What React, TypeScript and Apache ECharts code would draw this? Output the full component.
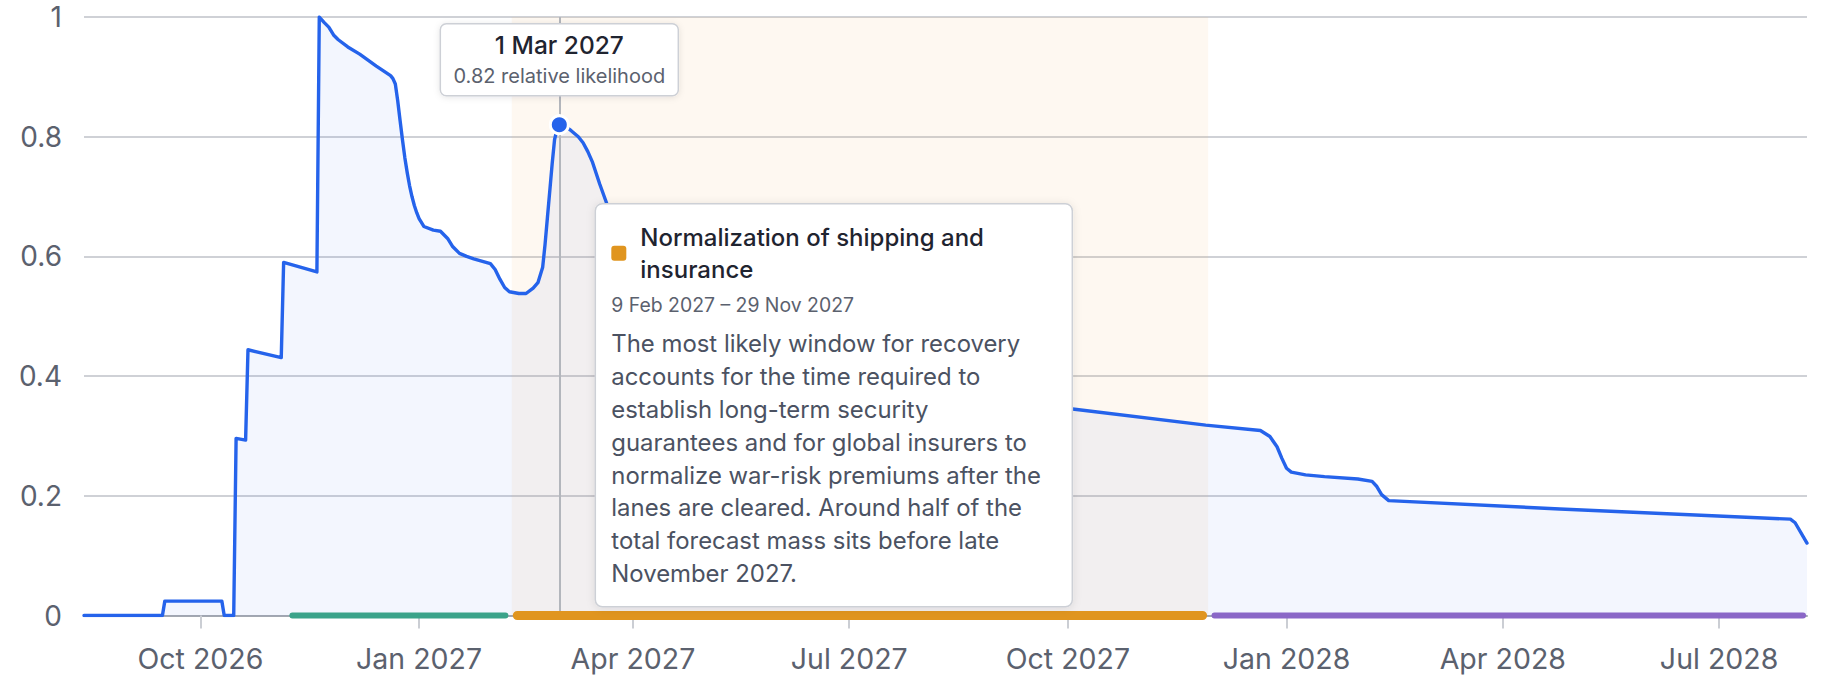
import React, { useEffect, useRef } from "react";
import * as echarts from "echarts";

// ---- data ----
const pointDates = [
  "2026-08-13", "2026-09-15", "2026-09-16", "2026-10-10", "2026-10-11", "2026-10-15",
  "2026-10-16", "2026-10-20", "2026-10-21", "2026-11-04", "2026-11-05", "2026-11-19",
  "2026-11-20", "2026-11-22", "2026-11-24", "2026-11-26", "2026-11-28", "2026-12-02",
  "2026-12-07", "2026-12-14", "2026-12-17", "2026-12-20", "2026-12-21", "2026-12-22",
  "2026-12-23", "2026-12-24", "2026-12-25", "2026-12-26", "2026-12-27", "2026-12-28",
  "2026-12-29", "2026-12-30", "2026-12-31", "2027-01-01", "2027-01-03", "2027-01-07",
  "2027-01-10", "2027-01-13", "2027-01-15", "2027-01-18", "2027-01-21", "2027-01-24",
  "2027-01-31", "2027-02-02", "2027-02-04", "2027-02-06", "2027-02-08", "2027-02-12",
  "2027-02-15", "2027-02-18", "2027-02-20", "2027-02-22", "2027-02-23", "2027-02-24",
  "2027-02-25", "2027-02-26", "2027-02-27", "2027-02-28", "2027-03-01", "2027-03-04",
  "2027-03-06", "2027-03-09", "2027-03-11", "2027-03-13", "2027-03-15", "2027-03-18",
  "2027-03-21", "2027-03-25", "2027-04-01", "2027-04-08", "2027-04-15", "2027-04-25",
  "2027-05-15", "2027-06-15", "2027-07-15", "2027-08-15", "2027-09-10", "2027-10-03",
  "2027-11-28", "2027-12-21", "2027-12-25", "2027-12-28", "2027-12-30", "2028-01-01",
  "2028-01-03", "2028-01-09", "2028-01-17", "2028-01-31", "2028-02-06", "2028-02-08",
  "2028-02-10", "2028-02-13", "2028-04-25", "2028-07-31", "2028-08-02", "2028-08-07",
];
const pointValues = [
  0, 0, 0.024, 0.024, 0, 0,
  0.296, 0.293, 0.444, 0.431, 0.59, 0.574,
  1.0, 0.991, 0.983, 0.97, 0.962, 0.95,
  0.938, 0.918, 0.91, 0.902, 0.897, 0.888,
  0.86, 0.827, 0.795, 0.765, 0.74, 0.718,
  0.7, 0.685, 0.673, 0.663, 0.65, 0.644,
  0.642, 0.63, 0.617, 0.605, 0.6, 0.596,
  0.588, 0.578, 0.562, 0.548, 0.541, 0.538,
  0.538, 0.547, 0.556, 0.582, 0.62, 0.665,
  0.71, 0.755, 0.795, 0.812, 0.82, 0.816,
  0.81, 0.8, 0.79, 0.775, 0.757, 0.721,
  0.688, 0.63, 0.55, 0.49, 0.46, 0.445,
  0.43, 0.41, 0.39, 0.37, 0.357, 0.345,
  0.318, 0.309, 0.299, 0.282, 0.263, 0.246,
  0.2395, 0.235, 0.232, 0.228, 0.224, 0.2155,
  0.202, 0.192, 0.178, 0.161, 0.155, 0.121,
];

const axisStart = "2026-08-13";
const axisEnd = "2028-08-07";

const tickDates = [
  "2026-10-01", "2027-01-01", "2027-04-01", "2027-07-01",
  "2027-10-01", "2028-01-01", "2028-04-01", "2028-07-01",
];
const tickLabels = [
  "Oct 2026", "Jan 2027", "Apr 2027", "Jul 2027",
  "Oct 2027", "Jan 2028", "Apr 2028", "Jul 2028",
];

const phaseNames = ["Clearance phase", "Normalization of shipping and insurance", "Long tail"];
const phaseStarts = ["2026-11-07", "2027-02-09", "2027-11-30"];
const phaseEnds = ["2027-02-08", "2027-11-29", "2028-08-07"];
const activePhase = 1;

const hoverDate = "2027-03-01";
const hoverDateLabel = "1 Mar 2027";
const hoverValue = 0.82;
const hoverUnit = "relative likelihood";

const phaseTitle = "Normalization of shipping and\ninsurance";
const phaseRange = "9 Feb 2027 – 29 Nov 2027";
const phaseBodyLines = [
  "The most likely window for recovery",
  "accounts for the time required to",
  "establish long-term security",
  "guarantees and for global insurers to",
  "normalize war-risk premiums after the",
  "lanes are cleared. Around half of the",
  "total forecast mass sits before late",
  "November 2027.",
];

// ---- styles ----
const FONT = "Inter, 'Noto Sans', sans-serif";
const phaseColors = ["#3aa38a", "#e0951f", "#8a67c7"];
const BLUE = "#2563eb";

const toTime = (s: string) => new Date(s + "T00:00:00Z").getTime();

export default function App() {
  const ref = useRef<HTMLDivElement>(null);

  useEffect(() => {
    if (!ref.current) return;
    const chart = echarts.init(ref.current, null, { renderer: "svg" });
    const tickTimes = tickDates.map(toTime);
    const lineData = pointDates.map((d, i) => [toTime(d), pointValues[i]]);
    const phaseData = phaseStarts.map((s, i) => ({
      name: phaseNames[i],
      value: [toTime(s), toTime(phaseEnds[i]), 0],
    }));

    chart.setOption({
      animation: false,
      textStyle: { fontFamily: FONT },
      grid: { left: 84, right: 19, top: 17, bottom: 74.5, containLabel: false },
      xAxis: {
        type: "value",
        min: toTime(axisStart),
        max: toTime(axisEnd),
        axisLine: { show: true, onZero: false, lineStyle: { color: "#a3a8b1", width: 2 } },
        axisTick: {
          show: true,
          customValues: tickTimes,
          length: 13,
          lineStyle: { color: "#cbced4", width: 2 },
        },
        axisLabel: {
          customValues: tickTimes,
          formatter: (v: number) => {
            const i = tickTimes.indexOf(v);
            return i >= 0 ? tickLabels[i] : "";
          },
          color: "#5b616e",
          fontSize: 28.5,
          fontFamily: FONT,
          margin: 28,
        },
        splitLine: { show: false },
      },
      yAxis: {
        type: "value",
        min: 0,
        max: 1,
        interval: 0.2,
        axisLine: { show: false },
        axisTick: { show: false },
        axisLabel: { color: "#5b616e", fontSize: 28, fontFamily: FONT, margin: 22 },
        splitLine: { lineStyle: { color: "#cfd1d6", width: 2 } },
      },
      series: [
        {
          type: "line",
          name: "Relative likelihood",
          data: lineData,
          showSymbol: false,
          symbol: "none",
          z: 3,
          lineStyle: { color: BLUE, width: 3.4, join: "round", cap: "round" },
          areaStyle: { color: "rgba(37,99,235,0.08)" },
          markArea: {
            silent: true,
            itemStyle: { color: "rgba(240,180,100,0.09)" },
            data: [[{ xAxis: toTime(phaseStarts[activePhase]) }, { xAxis: toTime(phaseEnds[activePhase]) }]],
          },
          markLine: {
            silent: true,
            symbol: ["none", "none"],
            label: { show: false },
            lineStyle: { color: "#b3b6bc", width: 2, type: "solid" },
            data: [{ xAxis: toTime(hoverDate) }],
          },
        },
        {
          type: "custom",
          name: "Phases",
          z: 5,
          clip: false,
          encode: { x: [0, 1], y: 2 },
          data: phaseData,
          renderItem: (params: any, api: any) => {
            const s = api.coord([api.value(0), 0]);
            const e = api.coord([api.value(1), 0]);
            const idx = params.dataIndex;
            const h = idx === activePhase ? 9 : 6;
            return {
              type: "rect",
              shape: { x: s[0] + 1, y: s[1] - h / 2, width: e[0] - s[0] - 2, height: h, r: h / 2 },
              style: { fill: phaseColors[idx] },
            };
          },
        },
        {
          type: "scatter",
          name: "Hover",
          z: 6,
          data: [[toTime(hoverDate), hoverValue]],
          symbolSize: 18,
          itemStyle: { color: BLUE, borderColor: "#ffffff", borderWidth: 3, opacity: 1 },
        },
      ],
    });

    const [px, py] = chart.convertToPixel({ gridIndex: 0 }, [toTime(hoverDate), hoverValue]) as number[];

    const smallW = 238;
    const bigX = px + 36;
    const bigY = py + 79;
    chart.setOption({
      graphic: [
        {
          type: "group",
          x: px - smallW / 2,
          y: py - 101,
          z: 100,
          children: [
            {
              type: "rect",
              z: 100,
              shape: { x: 0, y: 0, width: smallW, height: 72, r: 6 },
              style: {
                fill: "#ffffff",
                stroke: "#cdd0d6",
                lineWidth: 1.5,
                shadowBlur: 6,
                shadowOffsetY: 1,
                shadowColor: "rgba(15,23,42,0.10)",
              },
            },
            {
              type: "text",
              z: 101,
              x: smallW / 2,
              y: 21.6,
              style: {
                text: hoverDateLabel,
                fill: "#1f2430",
                fontSize: 24.5,
                fontWeight: 500,
                fontFamily: FONT,
                align: "center",
                verticalAlign: "middle",
              },
            },
            {
              type: "text",
              z: 101,
              x: smallW / 2,
              y: 52,
              style: {
                text: `${hoverValue} ${hoverUnit}`,
                fill: "#5b616e",
                fontSize: 20,
                fontFamily: FONT,
                align: "center",
                verticalAlign: "middle",
              },
            },
          ],
        },
        {
          type: "group",
          x: bigX,
          y: bigY,
          z: 100,
          children: [
            {
              type: "rect",
              z: 100,
              shape: { x: 0, y: 0, width: 477, height: 403, r: 7 },
              style: {
                fill: "#ffffff",
                stroke: "#cdd0d6",
                lineWidth: 1.5,
                shadowBlur: 8,
                shadowOffsetY: 1,
                shadowColor: "rgba(15,23,42,0.10)",
              },
            },
            {
              type: "rect",
              z: 101,
              shape: { x: 16, y: 42, width: 15, height: 15, r: 3 },
              style: { fill: phaseColors[activePhase] },
            },
            {
              type: "text",
              z: 101,
              x: 45,
              y: 18.3,
              style: {
                text: phaseTitle,
                fill: "#1f2430",
                fontSize: 24,
                fontWeight: 500,
                fontFamily: FONT,
                lineHeight: 31.5,
                align: "left",
                verticalAlign: "top",
              },
            },
            {
              type: "text",
              z: 101,
              x: 16,
              y: 100.8,
              style: {
                text: phaseRange,
                fill: "#5b616e",
                fontSize: 19.4,
                fontFamily: FONT,
                align: "left",
                verticalAlign: "middle",
              },
            },
            {
              type: "text",
              z: 101,
              x: 16,
              y: 123.3,
              style: {
                text: phaseBodyLines.join("\n"),
                fill: "#4b5262",
                fontSize: 23.9,
                fontFamily: FONT,
                lineHeight: 32.9,
                align: "left",
                verticalAlign: "top",
              },
            },
          ],
        },
      ],
    });

    return () => chart.dispose();
  }, []);

  return (
    <div
      ref={ref}
      style={{ position: "fixed", left: 0, top: 0, width: 1826, height: 690, background: "#ffffff" }}
    />
  );
}
